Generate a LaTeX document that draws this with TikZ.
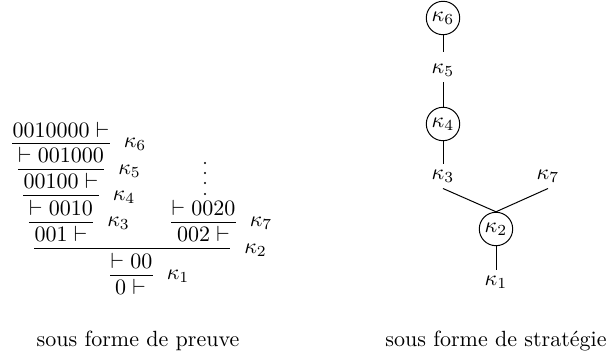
\documentclass[tikz,border=0pt]{standalone}
\usepackage{fontspec}
\begin{document}
\begin{tikzpicture}[x=0.4545pt,y=-0.4545pt,
  seq/.style={inner sep=0pt, anchor=base},
  lbl/.style={inner sep=0pt, anchor=base west, xshift=6.2pt, yshift=-2pt},
  prule/.style={line width=0.4pt},
  cnode/.style={circle, draw, line width=0.45pt, minimum size=15.2pt, inner sep=0pt},
  tnode/.style={inner sep=0pt, text height=7pt, text depth=3.8pt, anchor=base},
  sline/.style={line width=0.45pt},
  capt/.style={anchor=base, inner sep=0pt}]
\useasboundingbox (0,0) rectangle (609,358);
% ---- proof form ----
\node[seq] (q6) at (61,138) {$0010000\vdash$};
\node[seq] (q5) at (61,163) {$\vdash 001000$};
\node[seq] (q4) at (61,189) {$00100\vdash$};
\node[seq] (q3) at (61,216) {$\vdash 0010$};
\node[seq] (q2a) at (61,242) {$001\vdash$};
\node[seq] (q7) at (203.5,216) {$\vdash 0020$};
\node[seq] (q2b) at (203.5,242) {$002\vdash$};
\node[seq] (q1) at (131.5,269) {$\vdash 00$};
\node[seq] (q0) at (130.5,295) {$0\vdash$};
\draw[prule] ([yshift=-2.3pt]q6.base west) -- ([yshift=-2.3pt]q6.base east) node[lbl] (k6) {$\kappa_6$};
\draw[prule] ([yshift=-3.1pt]q5.base west) -- ([yshift=-3.1pt]q5.base east) node[lbl] (k5) {$\kappa_5$};
\draw[prule] ([yshift=-3.1pt]q4.base west) -- ([yshift=-3.1pt]q4.base east) node[lbl] (k4) {$\kappa_4$};
\draw[prule] ([yshift=-2.8pt]q3.base west) -- ([yshift=-2.8pt]q3.base east) node[lbl] (k3) {$\kappa_3$};
\draw[prule] ([yshift=-2.8pt]q7.base west) -- ([yshift=-2.8pt]q7.base east) node[lbl] (k7) {$\kappa_7$};
\draw[prule] ([yshift=-3.1pt]q2a.base west) -- ([yshift=-3.1pt]q2b.base east) node[lbl] (k2) {$\kappa_2$};
\draw[prule] ([yshift=-2.8pt]q1.base west) -- ([yshift=-2.8pt]q1.base east) node[lbl] (k1) {$\kappa_1$};
\foreach \yy in {163,173,183,194} \fill (205,\yy) circle (0.5pt);
% ---- strategy form ----
\node[cnode] (s6) at (443,18) {$\kappa_6$};
\node[tnode] (s5) at (443,73.7) {$\kappa_5$};
\node[cnode] (s4) at (443,124) {$\kappa_4$};
\node[tnode] (s3) at (443,179.7) {$\kappa_3$};
\node[tnode] (s7) at (548,179.7) {$\kappa_7$};
\node[cnode] (s2) at (496,229) {$\kappa_2$};
\node[tnode] (s1) at (496,285.7) {$\kappa_1$};
\draw[sline, shorten >=2.7pt] (s6.south) -- (s5.north);
\draw[sline] (s5.south) -- (s4.north);
\draw[sline] (s4.south) -- (s3.north);
\draw[sline] (s3.south) -- (s2.north);
\draw[sline] (s7.south) -- (s2.north);
\draw[sline] (s2.south) -- (s1.north);
% ---- captions ----
\node[capt] (c1) at (138,347) {sous forme de preuve};
\node[capt] (c2) at (496,347) {sous forme de stratégie};
\end{tikzpicture}
\end{document}
